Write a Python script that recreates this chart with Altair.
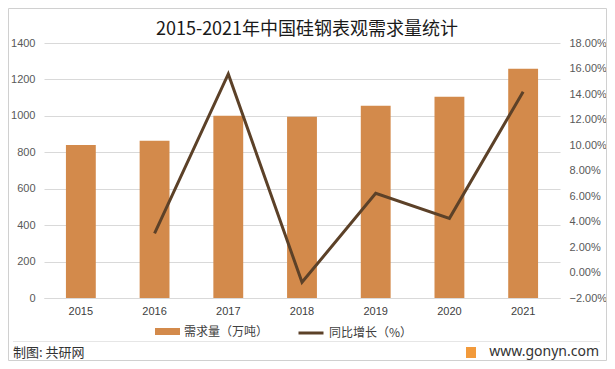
import altair as alt
import pandas as pd

years = ["2015", "2016", "2017", "2018", "2019", "2020", "2021"]
demand = [840, 864, 1000, 995, 1055, 1105, 1258]
growth_pct = [None, 3.07, 15.57, -0.77, 6.21, 4.25, 14.18]
bar_name = "需求量（万吨）"
line_name = "同比增长（%）"
left_ticks = [0, 200, 400, 600, 800, 1000, 1200, 1400]
right_ticks = [-0.02, 0.0, 0.02, 0.04, 0.06, 0.08, 0.10, 0.12, 0.14, 0.16, 0.18]
title_text = "2015-2021年中国硅钢表观需求量统计"
footer_left = "制图: 共研网"
footer_right = "www.gonyn.com"

bar_color = "#D38A4B"
line_color = "#5C4128"
grid_color = "#D9D9D9"
font = "Noto Sans CJK SC"
num_font = "Liberation Sans"

df = pd.DataFrame({
    "year": years,
    "demand": demand,
    "growth": [g / 100 if g is not None else None for g in growth_pct],
    "bar_s": bar_name,
    "line_s": line_name,
})

x_enc = alt.X(
    "year:N", title=None,
    scale=alt.Scale(paddingInner=0.595, paddingOuter=0.2975),
    axis=alt.Axis(labelAngle=0, ticks=False, domainColor=grid_color, domainWidth=1,
                  labelColor="#404040", labelFontSize=11, labelPadding=7, labelFont=num_font),
)

bars = alt.Chart(df).mark_bar().encode(
    x=x_enc,
    y=alt.Y("demand:Q", title=None,
            scale=alt.Scale(domain=[0, 1400], nice=False),
            axis=alt.Axis(values=left_ticks, format="d", ticks=False, domain=False,
                          gridColor=grid_color, labelColor="#595959", labelFontSize=11,
                          labelPadding=9, labelFont=num_font)),
    fill=alt.Fill("bar_s:N", scale=alt.Scale(range=[bar_color]),
                  legend=alt.Legend(title=None, orient="none", legendX=111, legendY=276,
                                    symbolType="M-1,-0.28H1V0.28H-1Z", symbolSize=625,
                                    symbolStrokeWidth=0, labelFontSize=12, labelFont=font,
                                    labelColor="#404040", labelOffset=4)),
)

line = alt.Chart(df).mark_line(strokeWidth=3).encode(
    x=alt.X("year:N"),
    y=alt.Y("growth:Q", title=None,
            scale=alt.Scale(domain=[-0.02, 0.18], nice=False),
            axis=alt.Axis(orient="right", values=right_ticks, format=".2%", ticks=False,
                          domain=False, grid=False, labelColor="#595959", labelFontSize=11,
                          labelPadding=9, labelFont=num_font)),
    stroke=alt.Stroke("line_s:N", scale=alt.Scale(range=[line_color]),
                      legend=alt.Legend(title=None, orient="none", legendX=253, legendY=276,
                                        symbolType="stroke", symbolSize=625,
                                        symbolStrokeWidth=3, labelFontSize=12, labelFont=font,
                                        labelColor="#404040", labelOffset=4)),
)

title_df = pd.DataFrame({"t": [title_text]})
footer_df = pd.DataFrame({"t": [footer_left]})
footer_r_df = pd.DataFrame({"t": [footer_right]})

title = alt.Chart(title_df).mark_text(align="center", baseline="middle", fontSize=18,
                                      font=font, color="#1a1a1a").encode(
    text="t:N", x=alt.value(263), y=alt.value(-13))
sep = alt.Chart(footer_df).mark_rule(color="#E6E6E6", strokeWidth=1).encode(
    x=alt.value(-31), x2=alt.value(556), y=alt.value(298.5))
ftxt = alt.Chart(footer_df).mark_text(align="left", baseline="middle", fontSize=13,
                                      font=font, color="#333333").encode(
    text="t:N", x=alt.value(-31), y=alt.value(310))
ftxt_r = alt.Chart(footer_r_df).mark_text(align="right", baseline="middle", fontSize=14,
                                          font="Noto Sans", color="#333333").encode(
    text="t:N", x=alt.value(555), y=alt.value(309))
logo = alt.Chart(footer_r_df).mark_rect(color="#F29A3B").encode(
    x=alt.value(422), x2=alt.value(432), y=alt.value(304), y2=alt.value(315))
border = alt.Chart(footer_df).mark_rect(fill=None, stroke="#D0D0D0", strokeWidth=1).encode(
    x=alt.value(-35.5), x2=alt.value(562.5), y=alt.value(-34.5), y2=alt.value(317.5))

chart = alt.layer(bars, line, title, sep, ftxt, ftxt_r, logo, border).resolve_scale(
    y="independent", fill="independent", stroke="independent"
).properties(
    width=516, height=255,
    autosize=alt.AutoSizeParams(type="none"),
    padding={"left": 36, "top": 35, "right": 47, "bottom": 63},
).configure_view(stroke=None)

chart.save("out.html", embed_options={"renderer": "svg", "actions": False})
